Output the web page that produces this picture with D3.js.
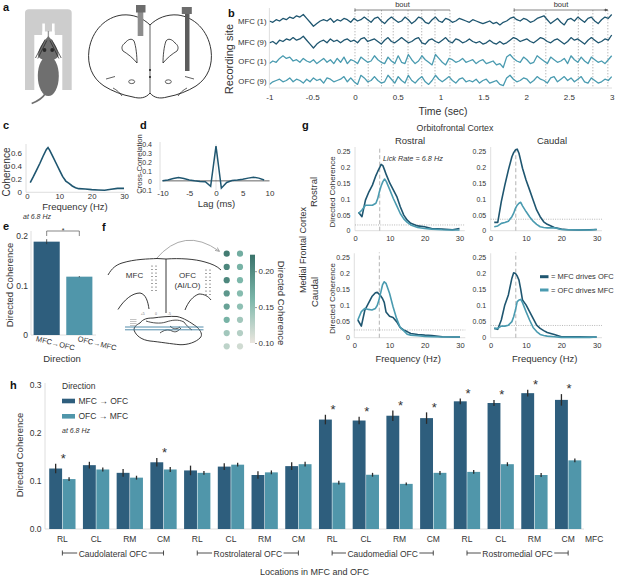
<!DOCTYPE html>
<html>
<head>
<meta charset="utf-8">
<script src="https://cdn.jsdelivr.net/npm/d3@7"></script>
<style>
  body { margin: 0; background: #fff; }
  svg text { font-family: "Liberation Sans", Arial, sans-serif; }
</style>
</head>
<body>
<svg id="fig" width="617" height="575"></svg>
<script>
const FONT = '"Liberation Sans", Arial, sans-serif';
const DARK = "#2e5e7d", LIGHT = "#5096aa";
const LDARK = "#1f5670", LLIGHT = "#4a9bb0";
const INK = "#333";

// ---------- data ----------
// b: example LFP traces, sampled every 40 ms from -1 to 3 s
const traceNames = ["MFC (1)", "MFC (9)", "OFC (1)", "OFC (9)"];
const mfc1 = [0,-1,1,0,2,1,3,2,4,3,5, 2,-1,-4,-2,0,1,0,2,-1,1, 0,2,1,-1,2,0,1,3,1,-1,
  2,3,0,-2,1,3,1,-1,0,3, 1,-2,0,3,2,-1,-2,1,3,0, -1,2,1,-1,0,2,1,0,-1,1,
  0,-1,-2,-1,0,-2,-1,-3,-1,0, 2,3,1,0,2,1,-1,0,2,3, 4,1,-2,0,2,-1,-3,1,2,0,
  3,1,-1,2,3,0,-2,1,3,2,5];
const mfc9 = [-1,0,-2,1,0,2,1,3,1,2,4, 1,-2,-5,-2,0,1,-1,2,0,1, -1,1,2,0,1,-1,2,3,0,1,
  2,0,-2,1,3,0,-1,1,3,1, -1,0,2,3,-1,-2,1,2,0,-1, 1,3,0,-1,2,1,-1,0,2,0,
  -1,0,-2,-1,1,-1,-2,0,-2,-1, 1,3,2,0,1,2,0,-1,1,3, 2,0,-1,1,2,0,-2,0,3,1,
  2,0,-2,1,3,1,-1,0,2,1,5];
const ofc1 = [-2,0,-1,2,4,2,3,0,1,-1,2, 0,-1,1,-2,0,2,-1,1,-2,2, -1,3,-2,1,0,-2,3,1,-1,0,
  4,1,-1,-2,3,0,-2,4,-1,-2, 5,1,-2,0,4,1,-1,-3,5,2, -1,-3,2,1,-1,0,2,-1,0,1,
  -2,0,1,-2,-1,0,-3,-2,-5,3, 5,2,0,-1,3,1,-2,-1,4,2, 0,-2,3,1,-1,0,2,-2,4,1,
  -1,3,0,-2,3,1,-1,0,-2,1,4];
const ofc9 = [-3,-1,0,1,-1,0,2,-1,1,0,-2, 1,-1,2,0,1,-2,2,1,-1,0, 1,3,-1,2,-1,-3,4,2,-1,0,
  3,0,-2,-1,4,1,-2,3,0,-2, 4,0,-2,1,3,-1,-3,0,4,1, -1,1,3,0,-2,1,2,-1,0,-1,
  1,-2,0,1,-2,-1,0,-3,-4,2, 4,1,-1,0,2,1,-2,0,3,1, 0,-2,2,3,-1,1,3,0,2,-1,
  1,3,-1,-2,2,0,-2,-1,1,0,3];
const lickTimes = [0, 0.155, 0.31, 0.447, 0.62, 0.78, 0.935, 1.11, 1.86, 2.23, 2.61, 2.78, 2.955];
const bouts = [[0, 1.11], [1.86, 2.955]];
const bTicks = [-1, -0.5, 0, 0.5, 1, 1.5, 2, 2.5, 3];

// c: coherence spectrum
const cFreq = [1,2,3,4,5,6,6.5,7,8,9,10,11,12,13,14,15,16,18,20,22,24,26,28,30];
const cCoh = [0.146,0.24,0.34,0.44,0.55,0.65,0.677,0.64,0.54,0.44,0.34,0.24,0.17,0.136,0.096,0.07,0.055,0.05,0.04,0.035,0.03,0.045,0.06,0.06];

// d: cross-correlation
const dLag = [-10,-9,-8,-7,-6,-5,-4,-3,-2,-1,0,1,2,3,4,5,6,7,8,9];
const dXcorr = [0,0.01,0.025,0.036,0.025,0.01,0,-0.007,-0.01,-0.06,0.38,-0.08,-0.018,0.004,0.01,0.018,0.03,0.04,0.03,0.01];

// e: directed coherence at 6.8 Hz
const eDirs = ["MFC\u2192OFC", "OFC\u2192MFC"];
const eVals = [0.188, 0.1175];
const eErr = [0.005, 0.0012];

// f: directed coherence per electrode (top to bottom)
const fMfcCol = [0.215, 0.205, 0.205, 0.19, 0.18, 0.165, 0.14, 0.125];
const fOfcCol = [0.17, 0.165, 0.16, 0.155, 0.15, 0.14, 0.13, 0.115];
const fTicks = [0.10, 0.15, 0.20];

// g: directed coherence spectra
const gFreq = [1,2,3,4,5,6,6.5,7,7.5,8,8.5,9,10,11,12,13,14,15,16,18,20,22,25,28,30];
const gRostRostMO = [0.058,0.044,0.096,0.122,0.143,0.173,0.185,0.196,0.208,0.204,0.19,0.175,0.149,0.128,0.107,0.075,0.049,0.033,0.023,0.015,0.0125,0.007,0.005,0.003,0.007];
const gRostRostOM = [0.054,0.065,0.08,0.08,0.08,0.086,0.1,0.122,0.14,0.154,0.162,0.154,0.128,0.101,0.078,0.054,0.037,0.026,0.018,0.010,0.007,0.005,0.003,0.002,0.002];
const gRostCaudMO = [0.026,0.026,0.091,0.143,0.19,0.232,0.245,0.253,0.256,0.243,0.22,0.196,0.159,0.128,0.096,0.065,0.044,0.028,0.020,0.010,0.005,0.003,0.002,0.003,0.004];
const gRostCaudOM = [0.0125,0.015,0.023,0.026,0.03,0.044,0.055,0.07,0.08,0.086,0.089,0.078,0.06,0.044,0.03,0.02,0.0125,0.01,0.009,0.009,0.004,0.003,0.002,0.002,0.004];
const gCaudRostMO = [0.055,0.036,0.086,0.107,0.128,0.14,0.141,0.136,0.13,0.122,0.11,0.08,0.067,0.063,0.05,0.032,0.024,0.019,0.013,0.010,0.008,0.007,0.003,0.002,0.002];
const gCaudRostOM = [0.055,0.081,0.091,0.088,0.086,0.091,0.1,0.117,0.14,0.164,0.174,0.169,0.138,0.096,0.06,0.032,0.022,0.011,0.008,0.006,0.004,0.003,0.002,0.002,0.002];
const gCaudCaudMO = [0.029,0.026,0.055,0.102,0.133,0.185,0.202,0.2,0.192,0.179,0.15,0.117,0.102,0.081,0.06,0.039,0.029,0.022,0.016,0.010,0.003,0.003,0.003,0.002,0.002];
const gCaudCaudOM = [0.029,0.029,0.036,0.036,0.039,0.05,0.065,0.086,0.112,0.117,0.119,0.109,0.081,0.055,0.032,0.019,0.010,0.007,0.005,0.003,0.001,0.001,0.001,0.001,0.002];
const gThresh = [0.018, 0.036, 0.024, 0.038];
const gLick = 7.1;
const gYTicks = [0, 0.05, 0.1, 0.15, 0.2, 0.25];

// h: directed coherence per location
const hSites = ["RL","CL","RM","CM","RL","CL","RM","CM","RL","CL","RM","CM","RL","CL","RM","CM"];
const hFamilies = ["Caudolateral OFC", "Rostrolateral OFC", "Caudomedial OFC", "Rostromedial OFC"];
const hDirs = ["MFC \u2192 OFC", "OFC \u2192 MFC"];
const hMfcOfc = [0.126,0.133,0.117,0.139, 0.122,0.130,0.1125,0.131, 0.228,0.226,0.236,0.231, 0.266,0.2625,0.283,0.269];
const hOfcMfc = [0.104,0.124,0.107,0.124, 0.117,0.134,0.118,0.135, 0.0965,0.113,0.094,0.117, 0.119,0.135,0.1125,0.143];
const hMfcOfcErr = [0.010,0.007,0.008,0.009, 0.010,0.007,0.008,0.008, 0.010,0.008,0.011,0.012, 0.006,0.006,0.007,0.012];
const hOfcMfcErr = [0.004,0.004,0.004,0.005, 0.004,0.004,0.004,0.005, 0.004,0.004,0.003,0.004, 0.004,0.004,0.004,0.004];
const hSig = [1,0,0,1, 0,0,0,0, 1,1,1,1, 1,1,1,1];
const hYTicks = [0, 0.1, 0.2, 0.3];

// ---------- helpers ----------
const svg = d3.select("#fig");
svg.append("rect").attr("width", 617).attr("height", 575).attr("fill", "#fff");

function text(x, y, s, size, anchor = "start", attrs = {}) {
  const t = svg.append("text").attr("x", x).attr("y", y)
    .attr("font-size", size).attr("text-anchor", anchor).attr("fill", INK).text(s);
  for (const k in attrs) t.attr(k, attrs[k]);
  return t;
}
function vtext(x, y, s, size, rot = -90) {
  return svg.append("text")
    .attr("transform", `translate(${x},${y}) rotate(${rot})`)
    .attr("dy", "0.35em").attr("font-size", size)
    .attr("text-anchor", "middle").attr("fill", INK).text(s);
}
function letter(x, y, s) {
  text(x, y, s, 11, "start", { "font-weight": "bold", fill: "#111" });
}
function styleAxis(g, size) {
  g.attr("font-family", FONT).attr("font-size", size);
  g.select(".domain").remove();
  g.selectAll(".tick line").remove();
  g.selectAll(".tick text").attr("fill", INK);
}
function spine(x1, y1, x2, y2, color = "#d6d6d6") {
  return svg.append("line").attr("x1", x1).attr("y1", y1).attr("x2", x2).attr("y2", y2)
    .attr("stroke", color).attr("stroke-width", 0.8);
}
const num = d => String(+d.toFixed(3));

// ---------- panel a (illustration) ----------
letter(3, 11, "a");
{
  const a = svg.append("g");
  a.append("path").attr("d", "M25,90 L25,13 Q25,9.3 29,9.3 L67.7,9.3 Q71.7,9.3 71.7,13 L71.7,90 Z").attr("fill", "#cdcdcd");
  a.append("rect").attr("x", 34.3).attr("y", 35).attr("width", 28).attr("height", 55).attr("fill", "#fff");
  a.append("rect").attr("x", 42.3).attr("y", 23.5).attr("width", 2.6).attr("height", 12).attr("fill", "#fff");
  a.append("rect").attr("x", 52).attr("y", 23.5).attr("width", 2.6).attr("height", 12).attr("fill", "#fff");
  a.append("rect").attr("x", 42.3).attr("y", 31.5).attr("width", 12.3).attr("height", 3.5).attr("fill", "#fff");
  a.append("line").attr("x1", 48.4).attr("y1", 31).attr("x2", 48.4).attr("y2", 37).attr("stroke", "#999").attr("stroke-width", 1.4);
  const mouse = "#6f6f6f";
  a.append("ellipse").attr("cx", 48.3).attr("cy", 76).attr("rx", 10.5).attr("ry", 20).attr("fill", mouse);
  a.append("path").attr("d", "M48.3,36 C52,40 58,47 58.5,55 C58,62 38.5,62 38,55 C38.5,47 45,40 48.3,36 Z").attr("fill", mouse);
  a.append("path").attr("d", "M45,94 C42,99 38,101 31.7,103.5").attr("fill", "none").attr("stroke", mouse).attr("stroke-width", 1.6);
  a.append("circle").attr("cx", 44.5).attr("cy", 50).attr("r", 1.9).attr("fill", "#2a2a2a");
  a.append("circle").attr("cx", 52.2).attr("cy", 50).attr("r", 1.9).attr("fill", "#2a2a2a");
  [["M35.5,58 L45,39.5", "M37.8,58.5 L46.8,40.5"], ["M61.2,58 L51.6,39.5", "M58.9,58.5 L49.9,40.5"]].forEach(pair => {
    pair.forEach(d => a.append("path").attr("d", d).attr("stroke", "#222").attr("stroke-width", 0.7));
  });

  const br = "#1d1d1d";
  const half = "C143,18 133,14 122,15 C106,17 92,30 89,50 C87,65 92,78 104,86 C112,91 122,95 133,97 C140,99 146,98 150,93";
  const mirror = s => s.replace(/(-?\d+\.?\d*),(-?\d+\.?\d*)/g, (m, x, y) => `${+(300 - +x).toFixed(1)},${y}`);
  a.append("path").attr("d", "M150,25 " + half).attr("fill", "#fff").attr("stroke", br).attr("stroke-width", 0.9);
  a.append("path").attr("d", "M150,25 " + mirror(half)).attr("fill", "#fff").attr("stroke", br).attr("stroke-width", 0.9);
  a.append("line").attr("x1", 150).attr("y1", 25).attr("x2", 150).attr("y2", 93).attr("stroke", br).attr("stroke-width", 0.7);
  [70, 77].forEach(y => a.append("circle").attr("cx", 150).attr("cy", y).attr("r", 1).attr("fill", br));
  const vent = "M125,43 C128,39 132,38 134,41 C136,46 137,56 137,63 C133,58 128,54 123,51 C121,48 122,45 125,43 Z";
  a.append("path").attr("d", vent).attr("fill", "none").attr("stroke", br).attr("stroke-width", 0.8);
  a.append("path").attr("d", mirror(vent)).attr("fill", "none").attr("stroke", br).attr("stroke-width", 0.8);
  a.append("ellipse").attr("cx", 131.7).attr("cy", 81.7).attr("rx", 3).attr("ry", 1.9).attr("fill", "none").attr("stroke", br).attr("stroke-width", 0.7);
  a.append("ellipse").attr("cx", 168.3).attr("cy", 81.7).attr("rx", 3).attr("ry", 1.9).attr("fill", "none").attr("stroke", br).attr("stroke-width", 0.7);
  ["M106,79 L115,76.5", "M113,88 C117,90 120,93 122,96"].forEach(d => {
    a.append("path").attr("d", d).attr("fill", "none").attr("stroke", br).attr("stroke-width", 0.7);
    a.append("path").attr("d", mirror(d)).attr("fill", "none").attr("stroke", br).attr("stroke-width", 0.7);
  });
  a.append("rect").attr("x", 137.7).attr("y", 12).attr("width", 5.6).attr("height", 24).attr("fill", "#8d8d8d");
  a.append("rect").attr("x", 136).attr("y", 5).attr("width", 9.5).attr("height", 7.5).attr("fill", "#6c6c6c");
  a.append("rect").attr("x", 185).attr("y", 12).attr("width", 4.5).attr("height", 59).attr("fill", "#5c5c5c");
  a.append("rect").attr("x", 181.8).attr("y", 7).attr("width", 10).attr("height", 7).attr("fill", "#6c6c6c");
}

// ---------- panel b ----------
letter(228, 17, "b");
{
  const bx = d3.scaleLinear().domain([-1, 3]).range([269.4, 611.7]);
  const traces = [mfc1, mfc9, ofc1, ofc9];
  const bases = [21, 41.5, 61, 80.5];
  const colors = [LDARK, LDARK, LLIGHT, LLIGHT];

  lickTimes.forEach(t => spine(bx(t), 10, bx(t), 88, "#9a9a9a")
    .attr("stroke-dasharray", "1.4,1.6").attr("stroke-width", 0.7));

  traces.forEach((vals, k) => {
    const n = vals.length;
    const yy = d3.scaleLinear().domain([-5, 5]).range([bases[k] + 6.5, bases[k] - 6.5]);
    const line = d3.line().x((d, i) => bx(-1 + i * 4 / (n - 1))).y(d => yy(d));
    svg.append("path").datum(vals).attr("d", line).attr("fill", "none")
      .attr("stroke", colors[k]).attr("stroke-width", 1.3).attr("stroke-linejoin", "round");
    text(266.5, bases[k] + 3, traceNames[k], 7.8, "end");
  });

  spine(269.4, 8, 269.4, 88);
  spine(269.4, 88, 612, 88);
  const ax = svg.append("g").attr("transform", "translate(0,88)")
    .call(d3.axisBottom(bx).tickValues(bTicks).tickSize(0).tickPadding(6).tickFormat(d => String(d)));
  styleAxis(ax, 8);

  svg.append("defs").append("marker").attr("id", "arrB").attr("viewBox", "0 0 6 6")
    .attr("refX", 6).attr("refY", 3).attr("markerWidth", 4).attr("markerHeight", 4).attr("orient", "auto")
    .append("path").attr("d", "M0,0 L6,3 L0,6 Z").attr("fill", "#555");
  bouts.forEach((b, i) => {
    spine(bx(b[0]), 10, bx(b[1]), 10, "#666");
    spine(bx(b[0]), 8.3, bx(b[0]), 11.7, "#666");
    if (i === 1) {
      svg.append("line").attr("x1", bx(b[1]) - 4).attr("y1", 10).attr("x2", bx(b[1])).attr("y2", 10)
        .attr("stroke", "#555").attr("stroke-width", 0.8).attr("marker-end", "url(#arrB)");
    }
    text((bx(b[0]) + bx(b[1])) / 2, 7, "bout", 7.5, "middle");
  });

  vtext(229, 59, "Recording site", 11);
  text(443, 114.5, "Time (sec)", 10.5, "middle");
}

// ---------- panel c ----------
letter(3, 128.5, "c");
{
  const x = d3.scaleLinear().domain([0, 30]).range([27, 124]);
  const y = d3.scaleLinear().domain([0, 0.6]).range([192.3, 152.7]);
  spine(26, 144, 26, 192.3);
  spine(26, 192.3, 125, 192.3);
  svg.append("path").datum(cFreq.map((f, i) => [f, cCoh[i]]))
    .attr("d", d3.line().x(d => x(d[0])).y(d => y(d[1])))
    .attr("fill", "none").attr("stroke", LDARK).attr("stroke-width", 1.6);
  styleAxis(svg.append("g").attr("transform", "translate(26,0)")
    .call(d3.axisLeft(y).tickValues([0, 0.2, 0.4, 0.6]).tickSize(0).tickPadding(4).tickFormat(num)), 8);
  styleAxis(svg.append("g").attr("transform", "translate(0,192.3)")
    .call(d3.axisBottom(x).tickValues([0, 10, 20, 30]).tickSize(0).tickPadding(1).tickFormat(num)), 7.8);
  vtext(6, 172, "Coherence", 10);
  text(75, 210, "Frequency (Hz)", 9.5, "middle");
}

// ---------- panel d ----------
letter(140, 128.5, "d");
{
  const x = d3.scaleLinear().domain([-10, 10]).range([162.5, 269.5]);
  const y = d3.scaleLinear().domain([-0.1, 0.4]).range([190, 144.3]);
  spine(160, 142, 160, 190);
  spine(x(0), y(-0.1), x(0), y(0.4), "#dcdcdc");
  svg.append("line").attr("x1", x(-10)).attr("x2", x(10)).attr("y1", y(0)).attr("y2", y(0))
    .attr("stroke", "#222").attr("stroke-width", 0.7);
  svg.append("path").datum(dLag.map((l, i) => [l, dXcorr[i]]))
    .attr("d", d3.line().x(d => x(d[0])).y(d => y(d[1])))
    .attr("fill", "none").attr("stroke", LDARK).attr("stroke-width", 1.5);
  styleAxis(svg.append("g").attr("transform", "translate(160,0)")
    .call(d3.axisLeft(y).tickValues([-0.1, 0, 0.1, 0.2, 0.3, 0.4]).tickSize(0).tickPadding(8).tickFormat(num)), 7);
  styleAxis(svg.append("g").attr("transform", "translate(0,189.5)")
    .call(d3.axisBottom(x).tickValues([-10, -5, 0, 5, 10]).tickSize(0).tickPadding(0.5).tickFormat(num)), 8);
  vtext(139, 164, "Cross-Correlation", 7.6);
  text(216.5, 207, "Lag (ms)", 9.5, "middle");
}

// ---------- panel e ----------
letter(3, 229.5, "e");
{
  const x = d3.scaleBand().domain(eDirs).range([31, 95]).paddingInner(0.2).paddingOuter(0.08);
  const y = d3.scaleLinear().domain([0, 0.2]).range([335, 235.7]);
  spine(31, 231, 31, 335);
  spine(31, 335, 96, 335);
  svg.selectAll(".ebar").data(eDirs).join("rect").attr("class", "ebar")
    .attr("x", d => x(d)).attr("width", x.bandwidth())
    .attr("y", (d, i) => y(eVals[i])).attr("height", (d, i) => y(0) - y(eVals[i]))
    .attr("fill", (d, i) => i === 0 ? DARK : LIGHT);
  eDirs.forEach((d, i) => {
    const cx = x(d) + x.bandwidth() / 2;
    spine(cx, y(eVals[i] - eErr[i]), cx, y(eVals[i] + eErr[i]), "#333");
  });
  const c0 = x(eDirs[0]) + x.bandwidth() / 2, c1 = x(eDirs[1]) + x.bandwidth() / 2;
  svg.append("path").attr("d", `M${c0},236 L${c0},231 L${c1},231 L${c1},236`)
    .attr("fill", "none").attr("stroke", "#555").attr("stroke-width", 0.7);
  text((c0 + c1) / 2, 232.5, "*", 7, "middle");
  text(23, 219, "at 6.8 Hz", 7, "start", { "font-style": "italic" });
  styleAxis(svg.append("g").attr("transform", "translate(31,0)")
    .call(d3.axisLeft(y).tickValues([0, 0.1, 0.2]).tickSize(0).tickPadding(3).tickFormat(num)), 8.5);
  eDirs.forEach((d, i) => {
    const sx = x(d) + (i === 0 ? 2 : 11);
    svg.append("text").attr("transform", `translate(${sx},${341}) rotate(14)`)
      .attr("font-size", 7.5).attr("fill", INK).text(d);
  });
  text(62, 361.5, "Direction", 9.5, "middle");
  vtext(10, 285, "Directed Coherence", 9.5);
}

// ---------- panel f ----------
letter(102, 231, "f");
{
  const f = svg.append("g");
  const br = "#222";
  svg.append("defs").append("marker").attr("id", "arrF").attr("viewBox", "0 0 6 6")
    .attr("refX", 5).attr("refY", 3).attr("markerWidth", 5).attr("markerHeight", 5).attr("orient", "auto")
    .append("path").attr("d", "M0,0.5 L6,3 L0,5.5").attr("fill", "none").attr("stroke", "#999");
  f.append("path").attr("d", "M156,259 Q184,226 219,251").attr("fill", "none")
    .attr("stroke", "#a0a0a0").attr("stroke-width", 0.9).attr("marker-end", "url(#arrF)");
  [
    "M108,275 C112,268 116,265 122,263 C135,259 148,259 157,258.5 L166,259",
    "M166,259 C180,258 195,259 205,262 C212,264 217,266 221,270",
    "M166,259 L166,313",
    "M118,309.5 C124,300 132,293 140,293 C146,294 148,302 149,309",
    "M185,310 C188,302 193,296 199,294 C204,294 208,296 211,300"
  ].forEach(d => f.append("path").attr("d", d).attr("fill", "none").attr("stroke", br).attr("stroke-width", 0.9));
  [[152, 266], [156, 266], [206, 270], [210, 270]].forEach(([cx, y0]) => {
    for (let k = 0; k < 8; k++) f.append("circle").attr("cx", cx).attr("cy", y0 + k * 3.5).attr("r", 0.6).attr("fill", "#333");
  });
  text(134.5, 278, "MFC", 8, "middle");
  text(187.5, 278, "OFC", 8, "middle");
  text(187.5, 287.5, "(AI/LO)", 8, "middle");
  // sagittal inset
  f.append("path").attr("d", "M140,323 C143,319 147,318 153,318 C160,317 170,316 177,316.5 C184,318 190,322 197,327 C201,331 203,335 200,338 C196,342 188,345 180,344.7 C172,344 160,342 150,341 C142,340 136,336 134,330 C134,327 136,325 140,323 Z")
    .attr("fill", "#fff").attr("stroke", br).attr("stroke-width", 0.9);
  ["M146,321 C152,323 160,324 166,322 C172,320 178,319 184,322", "M160,333 C164,330 168,329 172,331 C176,333 178,331 181,328",
   "M170,326 C173,329 176,330 180,327", "M184,322 C186,325 189,328 192,330"]
    .forEach(d => f.append("path").attr("d", d).attr("fill", "none").attr("stroke", br).attr("stroke-width", 0.8));
  [319.5, 321.5, 323.5, 325.5].forEach(yy => f.append("line").attr("x1", 130).attr("x2", 136.5).attr("y1", yy).attr("y2", yy).attr("stroke", "#888").attr("stroke-width", 0.5));
  [327, 329.8].forEach(yy => f.append("line").attr("x1", 125).attr("x2", 203.5).attr("y1", yy).attr("y2", yy).attr("stroke", "#3f7fa0").attr("stroke-width", 0.9));
  [["+5", 142.7], ["0", 156], ["-5", 169.3]].forEach(([s, xx]) => text(xx, 315, s, 3.5, "middle", { fill: "#777" }));

  const color = d3.scaleLinear().domain([0.10, 0.16, 0.223]).range(["#ebe6df", "#7db8ab", "#3a736a"]);
  const rows = d3.scaleLinear().domain([0, 7]).range([253.7, 346.3]);
  [[226.7, fMfcCol], [240, fOfcCol]].forEach(([cx, vals]) => {
    svg.selectAll(null).data(vals).join("circle")
      .attr("cx", cx).attr("cy", (d, i) => rows(i)).attr("r", 3.1).attr("fill", d => color(d));
  });
  const cy = d3.scaleLinear().domain([0.10, 0.223]).range([343, 254.7]);
  const grad = svg.append("defs").append("linearGradient").attr("id", "cbar")
    .attr("x1", 0).attr("y1", 1).attr("x2", 0).attr("y2", 0);
  d3.range(0, 1.001, 0.1).forEach(t => {
    const v = 0.10 + t * 0.123;
    grad.append("stop").attr("offset", t).attr("stop-color", color(v));
  });
  svg.append("rect").attr("x", 250).attr("y", 254.7).attr("width", 5).attr("height", 88.3).attr("fill", "url(#cbar)");
  const cax = svg.append("g").attr("transform", "translate(255,0)")
    .call(d3.axisRight(cy).tickValues(fTicks).tickSize(2).tickPadding(1.5).tickFormat(d3.format(".2f")));
  cax.attr("font-family", FONT).attr("font-size", 8);
  cax.select(".domain").remove();
  cax.selectAll(".tick line").attr("stroke", "#999");
  cax.selectAll(".tick text").attr("fill", INK);
  vtext(281.5, 303, "Directed Coherence", 9.5, 90);
}

// ---------- panel g ----------
letter(302, 128.5, "g");
{
  const panels = [
    { x0: 355, x1: 459.5, yb: 230.7, yt: 151, mo: gRostRostMO, om: gRostRostOM, th: gThresh[0] },
    { x0: 490.7, x1: 596.7, yb: 230.7, yt: 151, mo: gRostCaudMO, om: gRostCaudOM, th: gThresh[1] },
    { x0: 354.3, x1: 460, yb: 337.7, yt: 257.3, mo: gCaudRostMO, om: gCaudRostOM, th: gThresh[2] },
    { x0: 490.7, x1: 596.7, yb: 337.7, yt: 257.3, mo: gCaudCaudMO, om: gCaudCaudOM, th: gThresh[3] }
  ];
  panels.forEach((p, k) => {
    const x = d3.scaleLinear().domain([0, 30]).range([p.x0, p.x1]);
    const y = d3.scaleLinear().domain([0, 0.25]).range([p.yb, p.yt]);
    spine(p.x0, p.yt - 4, p.x0, p.yb);
    spine(p.x0, p.yb, x(31.5), p.yb);
    svg.append("line").attr("x1", x(0)).attr("x2", x(31.5)).attr("y1", y(p.th)).attr("y2", y(p.th))
      .attr("stroke", "#999").attr("stroke-width", 0.7).attr("stroke-dasharray", "1,1.3");
    svg.append("line").attr("x1", x(gLick)).attr("x2", x(gLick)).attr("y1", y(0)).attr("y2", y(0.265))
      .attr("stroke", "#aaa").attr("stroke-width", 0.9).attr("stroke-dasharray", "4,2.5");
    [[p.mo, LDARK], [p.om, LLIGHT]].forEach(([vals, c]) => {
      svg.append("path").datum(gFreq.map((fq, i) => [fq, vals[i]]))
        .attr("d", d3.line().x(d => x(d[0])).y(d => y(d[1])))
        .attr("fill", "none").attr("stroke", c).attr("stroke-width", 1.6).attr("stroke-linejoin", "round");
    });
    styleAxis(svg.append("g").attr("transform", `translate(${p.x0},0)`)
      .call(d3.axisLeft(y).tickValues(gYTicks).tickSize(0).tickPadding(4.5).tickFormat(num)), 7);
    styleAxis(svg.append("g").attr("transform", `translate(0,${p.yb})`)
      .call(d3.axisBottom(x).tickValues([0, 10, 20, 30]).tickSize(0).tickPadding(4.5).tickFormat(num)), 7.5);
    if (k % 2 === 0) vtext(332, (p.yb + p.yt) / 2 + 1, "Directed Coherence", 8);
    if (k >= 2) text((p.x0 + p.x1) / 2 + 1, 361.5, "Frequency (Hz)", 9.5, "middle");
  });
  text(455, 130.5, "Orbitofrontal Cortex", 8.8, "middle");
  text(410, 143.5, "Rostral", 9.5, "middle");
  text(552, 143.5, "Caudal", 9.5, "middle");
  vtext(303, 250, "Medial Frontal Cortex", 9);
  vtext(314, 192, "Rostral", 9.5);
  vtext(315, 292, "Caudal", 9.5);
  text(383, 160.5, "Lick Rate = 6.8 Hz", 7.3, "start", { "font-style": "italic" });
  [["= MFC drives OFC", LDARK, 276.7], ["= OFC drives MFC", LLIGHT, 290]].forEach(([s, c, yy]) => {
    svg.append("line").attr("x1", 540).attr("x2", 548.5).attr("y1", yy).attr("y2", yy).attr("stroke", c).attr("stroke-width", 3);
    text(551, yy + 2.6, s, 7.5, "start");
  });
}

// ---------- panel h ----------
letter(10, 389, "h");
{
  const x = d3.scaleBand().domain(d3.range(hSites.length)).range([45.5, 585]).paddingInner(0.22).paddingOuter(0.11);
  const sub = d3.scaleBand().domain(hDirs).range([0, x.bandwidth()]).paddingInner(0.04);
  const y = d3.scaleLinear().domain([0, 0.3]).range([529, 385]);
  const vals = [hMfcOfc, hOfcMfc], errs = [hMfcOfcErr, hOfcMfcErr], cols = [DARK, LIGHT];

  spine(45, 383, 45, 529);
  spine(45, 529, 584, 529);
  hDirs.forEach((dir, k) => {
    svg.selectAll(null).data(vals[k]).join("rect")
      .attr("x", (d, i) => x(i) + sub(dir)).attr("width", sub.bandwidth())
      .attr("y", d => y(d)).attr("height", d => y(0) - y(d)).attr("fill", cols[k]);
    svg.selectAll(null).data(vals[k]).join("line")
      .attr("x1", (d, i) => x(i) + sub(dir) + sub.bandwidth() / 2)
      .attr("x2", (d, i) => x(i) + sub(dir) + sub.bandwidth() / 2)
      .attr("y1", (d, i) => y(d - errs[k][i])).attr("y2", (d, i) => y(d + errs[k][i]))
      .attr("stroke", "#2b2b2b").attr("stroke-width", 1.3);
  });
  hSig.forEach((s, i) => {
    if (!s) return;
    const top = hMfcOfc[i] + hMfcOfcErr[i] + 0.017;
    text(x(i) + x.bandwidth() / 2 + 1, y(top) + 7.5, "*", 13, "middle");
  });
  styleAxis(svg.append("g").attr("transform", "translate(45,0)")
    .call(d3.axisLeft(y).tickValues(hYTicks).tickSize(0).tickPadding(3.5).tickFormat(d3.format(".1f"))), 8.5);
  const xa = svg.append("g").attr("transform", "translate(0,529)")
    .call(d3.axisBottom(x).tickSize(0).tickPadding(6.5).tickFormat(i => hSites[i]));
  styleAxis(xa, 8.5);
  text(585, 541.5, "MFC", 8.5, "start");

  hFamilies.forEach((fam, k) => {
    const xa0 = x(4 * k) + x.bandwidth() / 2, xa1 = x(4 * k + 3) + x.bandwidth() / 2;
    const mid = (xa0 + xa1) / 2;
    const t = text(mid, 556.5, fam, 8.5, "middle");
    const w = t.node().getComputedTextLength();
    spine(xa0, 553, mid - w / 2 - 1.5, 553, "#222");
    spine(mid + w / 2 + 1.5, 553, xa1, 553, "#222");
    spine(xa0, 550.5, xa0, 555.5, "#222");
    spine(xa1, 550.5, xa1, 555.5, "#222");
  });
  text(314.5, 574.5, "Locations in MFC and OFC", 9, "middle");
  vtext(20, 455, "Directed Coherence", 9.5);

  text(62, 389, "Direction", 8.5, "start");
  hDirs.forEach((d, k) => {
    const yy = 401 + k * 15.3;
    svg.append("rect").attr("x", 62).attr("y", yy - 2.3).attr("width", 13).attr("height", 4.6).attr("fill", cols[k]);
    text(78.5, yy + 3, d, 8.5, "start");
  });
  text(62, 432.5, "at 6.8 Hz", 7, "start", { "font-style": "italic" });
}
</script>
</body>
</html>
